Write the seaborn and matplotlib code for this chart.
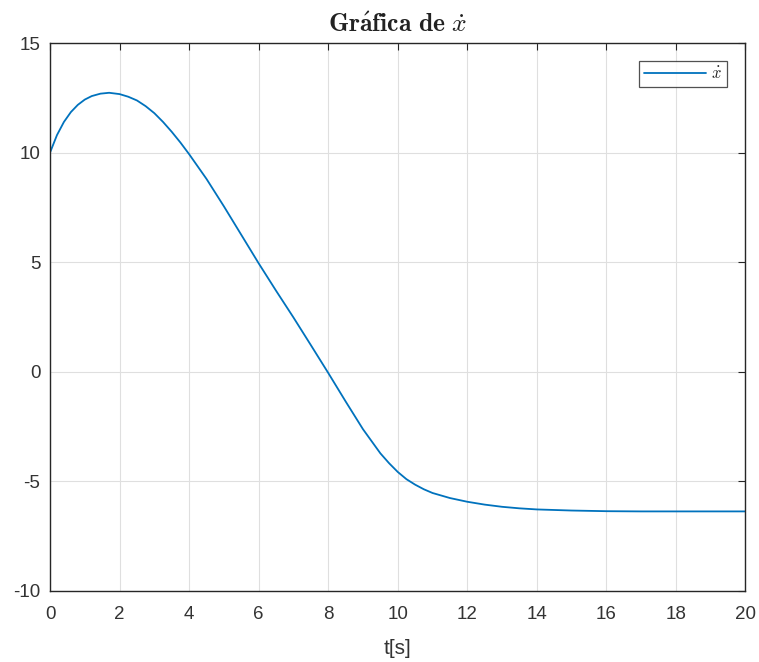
import matplotlib
matplotlib.use("Agg")
import matplotlib.pyplot as plt
import seaborn as sns

t_values = [0, 0.2, 0.4, 0.6, 0.8, 1.0, 1.2, 1.45, 1.7, 2, 2.25, 2.5, 2.75, 3, 3.25,
            3.5, 3.75, 4, 4.5, 5, 5.5, 6, 6.5, 7, 7.5, 8, 8.5, 9, 9.5, 9.75, 10,
            10.25, 10.5, 10.75, 11, 11.5, 12, 12.5, 13, 13.5, 14, 15, 16, 17, 18,
            19, 20]
xdot_values = [10.0, 10.8, 11.4, 11.85, 12.18, 12.42, 12.58, 12.69, 12.73, 12.67,
               12.55, 12.38, 12.12, 11.8, 11.4, 10.95, 10.46, 9.93, 8.8, 7.55, 6.25,
               4.95, 3.7, 2.48, 1.22, -0.05, -1.35, -2.62, -3.72, -4.17, -4.57,
               -4.9, -5.15, -5.36, -5.53, -5.76, -5.93, -6.06, -6.16, -6.23, -6.28,
               -6.33, -6.36, -6.37, -6.37, -6.37, -6.37]
x_ticks = [0, 2, 4, 6, 8, 10, 12, 14, 16, 18, 20]
y_ticks = [-10, -5, 0, 5, 10, 15]
title_text = r"$\mathbf{Gr\acute{a}fica\ de}\ \dot{x}$"
legend_label = r"$\dot{x}$"
xlabel_text = "t[s]"

sns.set_style("white")
plt.rcParams['font.family'] = ['Liberation Sans', 'DejaVu Sans']
plt.rcParams['mathtext.fontset'] = 'cm'

fig = plt.figure(figsize=(7.59, 6.62), dpi=100)
ax = fig.add_axes([0.0659, 0.1073, 0.9163, 0.8277])

sns.lineplot(x=t_values, y=xdot_values, ax=ax, color="#0072BD", linewidth=1.3,
             label=legend_label, estimator=None, sort=False)

ax.set_xlim(0, 20)
ax.set_ylim(-10, 15)
ax.set_xticks(x_ticks)
ax.set_yticks(y_ticks)
ax.set_xticklabels([str(v) for v in x_ticks])
ax.set_yticklabels([str(v) for v in y_ticks])
ax.grid(True, color="#dfdfdf", linewidth=0.8)
ax.set_axisbelow(True)
ax.tick_params(direction="in", length=5, width=0.8, top=True, right=True,
               labelsize=13.5, colors="#262626", labelcolor="#333333")
ax.tick_params(axis="x", pad=11)
ax.tick_params(axis="y", pad=7)
for s in ax.spines.values():
    s.set_color("#262626")
    s.set_linewidth(1.0)
    s.set_visible(True)

ax.set_xlabel(xlabel_text, fontsize=15, color="#333333", labelpad=11)
ax.set_title(title_text, fontsize=18.5, color="#222222", pad=8)

leg = ax.legend(loc="upper right", frameon=True, fancybox=False, fontsize=12,
                handlelength=3.7, handletextpad=0.3, borderpad=0.3,
                bbox_to_anchor=(0.985, 0.983))
leg.get_frame().set_edgecolor("#262626")
leg.get_frame().set_linewidth(0.9)

fig.savefig("out.png", dpi=100, facecolor="white")
